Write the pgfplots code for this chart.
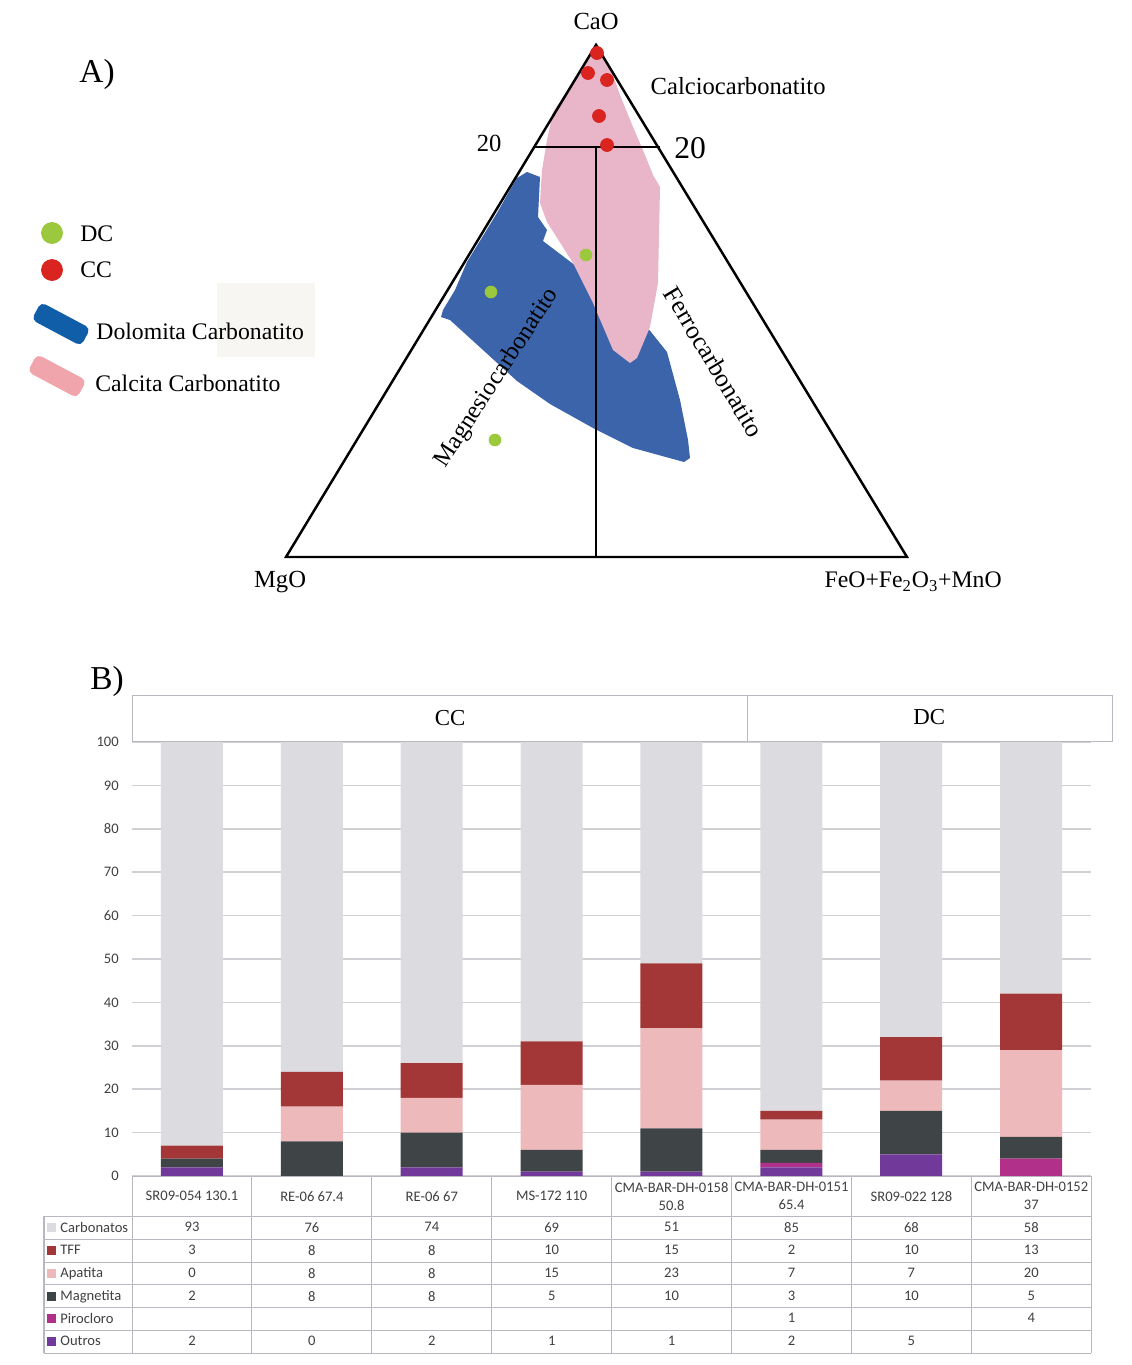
\documentclass[border=0pt]{standalone}
\usepackage{pgfplots}
\pgfplotsset{compat=1.18}
\usepackage{fontspec}
\setmainfont{Liberation Serif}
\newfontfamily\carlito{Carlito}
\definecolor{carb}{RGB}{220,219,224}
\definecolor{tff}{RGB}{163,55,56}
\definecolor{apat}{RGB}{237,185,187}
\definecolor{magn}{RGB}{63,68,71}
\definecolor{piro}{RGB}{176,48,138}
\definecolor{outr}{RGB}{113,57,154}
\definecolor{blueR}{RGB}{60,100,170}
\definecolor{pinkR}{RGB}{233,181,201}
\definecolor{legBlue}{RGB}{16,94,168}
\definecolor{legPink}{RGB}{240,164,172}
\definecolor{redP}{RGB}{217,36,31}
\definecolor{greenP}{RGB}{155,200,60}
\definecolor{gridc}{RGB}{208,208,212}
\definecolor{tabc}{RGB}{184,184,192}
\definecolor{txtc}{RGB}{64,64,64}
\definecolor{faint}{RGB}{247,246,243}
\newcommand{\fs}[1]{\fontsize{#1}{#1}\selectfont}
\begin{document}
\begin{tikzpicture}
% ---------- full-figure axis in pixel units (ternary diagram) ----------
\begin{axis}[at={(0,0)},anchor=south west,scale only axis,
  width=22.62cm,height=27.3cm,xmin=0,xmax=1131,ymin=0,ymax=1365,
  y dir=reverse,hide axis,clip=false]
\path (axis cs:0,0) rectangle (axis cs:1131,1365);
% Dolomita carbonatito field
\addplot[fill=blueR,draw=none] coordinates {
 (527,172) (540,177) (538,217) (547,230) (543,241) (572,263) (620,300)
 (647,327) (667,352) (680,400) (688,440) (690,458) (684,462) (633,448)
 (593,428) (550,404) (517,381) (483,350) (450,320) (441,317) (443,310)
 (455,290) (467,262) (497,213) (510,190) (517,178)} -- cycle;
% Calcita carbonatito field
\addplot[fill=pinkR,draw=none] coordinates {
 (597,43) (590,57) (577,77) (563,97) (553,112) (547,140) (542,170)
 (540,203) (547,222) (573,263) (593,303) (613,350) (630,363) (637,358)
 (650,327) (658,283) (660,187) (653,175) (645,155) (633,127) (620,95)
 (610,67)} -- cycle;
% triangle and field boundaries
\addplot[black,line width=1.4pt] coordinates {(596,45) (286,557) (907,557)} -- cycle;
\addplot[black,line width=1.3pt] coordinates {(533,147) (660,147)};
\addplot[black,line width=1.3pt] coordinates {(596,147) (596,557)};
% samples
\addplot[redP,only marks,mark=*,mark size=3.7pt,mark options={draw=redP,fill=redP}]
 coordinates {(597,53) (588,73) (607,80) (599,116) (607,145)};
\addplot[greenP,only marks,mark=*,mark size=3.4pt,mark options={draw=greenP,fill=greenP}]
 coordinates {(586,255) (491,292) (495,440)};
% legend symbols
\addplot[greenP,only marks,mark=*,mark size=6pt,mark options={draw=greenP,fill=greenP}]
 coordinates {(52,233)};
\addplot[redP,only marks,mark=*,mark size=6pt,mark options={draw=redP,fill=redP}]
 coordinates {(52,270)};
\end{axis}
% ---------- stacked bar chart ----------
\begin{axis}[at={(2.64cm,3.78cm)},anchor=south west,scale only axis,
  width=19.18cm,height=8.68cm,ybar stacked,bar width=0.517,
  xmin=-0.5,xmax=7.5,ymin=0,ymax=100,ytick={0,10,...,100},xtick=\empty,
  ymajorgrids,grid style={gridc,line width=1pt},
  axis line style={draw=none},major tick length=0pt,
  /pgf/number format/assume math mode=true,
  yticklabel style={font=\carlito\fs{8.3},text=txtc,xshift=-4pt},clip=false]
\addplot[fill=outr,draw=none] coordinates {(0,2) (1,0) (2,2) (3,1) (4,1) (5,2) (6,5) (7,0)};
\addplot[fill=piro,draw=none] coordinates {(0,0) (1,0) (2,0) (3,0) (4,0) (5,1) (6,0) (7,4)};
\addplot[fill=magn,draw=none] coordinates {(0,2) (1,8) (2,8) (3,5) (4,10) (5,3) (6,10) (7,5)};
\addplot[fill=apat,draw=none] coordinates {(0,0) (1,8) (2,8) (3,15) (4,23) (5,7) (6,7) (7,20)};
\addplot[fill=tff,draw=none] coordinates {(0,3) (1,8) (2,8) (3,10) (4,15) (5,2) (6,10) (7,13)};
\addplot[fill=carb,draw=none] coordinates {(0,93) (1,76) (2,74) (3,69) (4,51) (5,85) (6,68) (7,58)};
\end{axis}
% ---------- texts, legend and table (pixel coordinates) ----------
\begin{scope}[x=0.02cm,y=-0.02cm,shift={(0,27.3cm)}]
\fill[faint] (217,283) rectangle (315,357);
\node[font=\fs{19}] at (97,74) {A)};
\node[font=\fs{14}] at (596,21) {CaO};
\node[font=\fs{14}] at (738,86) {Calciocarbonatito};
\node[font=\fs{14}] at (489,143) {20};
\node[font=\fs{18}] at (690,148) {20};
\node[font=\fs{14}] at (280,582) {MgO};
\node[font=\fs{13.5}] at (913,582) {FeO+Fe\textsubscript{2}O\textsubscript{3}+MnO};
\node[font=\fs{14},rotate=57] at (497,378) {Magnesiocarbonatito};
\node[font=\fs{14.5},rotate=-59] at (714,362) {Ferrocarbonatito};
\node[font=\fs{13.5},anchor=west,inner sep=0pt] at (80,234) {DC};
\node[font=\fs{13.5},anchor=west,inner sep=0pt] at (80,270) {CC};
\fill[legBlue,rounded corners=3pt,rotate around={-28:(61,324)}] (33,314) rectangle (89,334);
\fill[legPink,rounded corners=3pt,rotate around={-28:(57,376)}] (29,366) rectangle (85,386);
\node[font=\fs{13.5},anchor=west,inner sep=0pt] at (96,331) {Dolomita Carbonatito};
\node[font=\fs{13.5},anchor=west,inner sep=0pt] at (95,383) {Calcita Carbonatito};
% B part
\node[font=\fs{19}] at (107,681) {B)};
\draw[tabc,line width=0.6pt] (132,695) rectangle (747,741);
\draw[tabc,line width=0.6pt] (747,695) rectangle (1112,741);
\node[font=\fs{13}] at (450,718) {CC};
\node[font=\fs{13}] at (929,717) {DC};
% table grid
\foreach \k in {0,...,8}
  \draw[tabc,line width=0.6pt] ({132+119.875*\k},1176) -- ({132+119.875*\k},1353);
\draw[tabc,line width=0.6pt] (132,1176) -- (1091,1176);
\draw[tabc,line width=0.6pt] (44,1216) -- (44,1353);
\foreach \y in {1216,1239,1262,1284,1307,1330,1353}
  \draw[tabc,line width=0.6pt] (44,\y) -- (1091,\y);
% column headers
\foreach \lab [count=\k from 0] in {SR09-054 130.1,RE-06 67.4,RE-06 67,MS-172 110,
   {CMA-BAR-DH-0158\\50.8},{CMA-BAR-DH-0151\\65.4},SR09-022 128,{CMA-BAR-DH-0152\\37}}
  \node[align=center,text=txtc,font=\carlito\fontsize{8.3}{10.2}\selectfont,inner sep=0pt]
    at ({192+119.875*\k},1196) {\lab};
% row labels
\foreach \lab/\col/\y in {Carbonatos/carb/1227,TFF/tff/1250,Apatita/apat/1273,
   Magnetita/magn/1296,Pirocloro/piro/1318,Outros/outr/1341}{
  \fill[\col] (47,\y-4.5) rectangle (56,\y+4.5);
  \node[anchor=west,inner sep=0pt,text=txtc,font=\carlito\fs{8.3}] at (60,\y) {\lab};
}
% values
\begin{scope}[every node/.style={text=txtc,font=\carlito\fs{8.3},inner sep=0pt}]
\foreach \v [count=\k from 0] in {93,76,74,69,51,85,68,58}
  \node at ({192+119.875*\k},1227) {\v};
\foreach \v [count=\k from 0] in {3,8,8,10,15,2,10,13}
  \node at ({192+119.875*\k},1250) {\v};
\foreach \v [count=\k from 0] in {0,8,8,15,23,7,7,20}
  \node at ({192+119.875*\k},1273) {\v};
\foreach \v [count=\k from 0] in {2,8,8,5,10,3,10,5}
  \node at ({192+119.875*\k},1296) {\v};
\node at ({192+119.875*5},1318) {1};
\node at ({192+119.875*7},1318) {4};
\foreach \v [count=\k from 0] in {2,0,2,1,1,2,5}
  \node at ({192+119.875*\k},1341) {\v};
\end{scope}
\end{scope}
\end{tikzpicture}
\end{document}
